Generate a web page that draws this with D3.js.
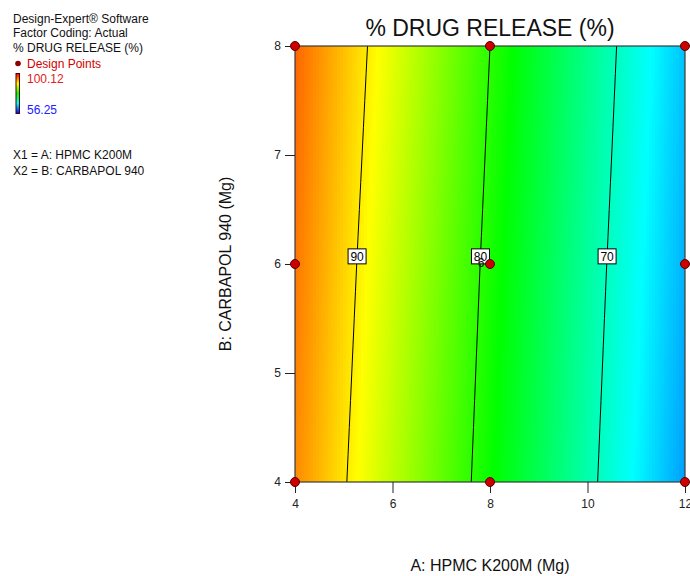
<!DOCTYPE html>
<html>
<head>
<meta charset="utf-8">
<script src="https://cdn.jsdelivr.net/npm/d3@7"></script>
<style>
  html, body { margin: 0; padding: 0; background: #fff; }
  svg { display: block; font-family: "Liberation Sans", Arial, sans-serif; }
</style>
</head>
<body>
<svg id="chart" width="690" height="576"></svg>
<script>
// Factor levels (mg)
const hpmcLevels = [4, 6, 8, 10, 12];      // A: HPMC K200M
const carbapolLevels = [4, 6, 8];          // B: CARBAPOL 940

// Predicted % drug release at each (B row, A column)
const releaseAtB4 = [94.2, 86.3, 78.5, 70.8, 63.1];
const releaseAtB6 = [95.0, 87.1, 79.2, 71.5, 63.9];
const releaseAtB8 = [95.8, 88.0, 80.0, 72.3, 64.6];
const releaseGrid = [releaseAtB4, releaseAtB6, releaseAtB8];

const contourLevels = [70, 80, 90];
const labelAtB = 6.07;

// Design points
const designA = [4, 4, 4, 8, 8, 8, 12, 12, 12];
const designB = [4, 6, 8, 4, 6, 8, 4, 6, 8];
const centerReplicates = "6";

const xTicks = [4, 6, 8, 10, 12];
const yTicks = [4, 5, 6, 7, 8];
const responseMin = 56.25, responseMax = 100.12;

const svg = d3.select("#chart");
const plot = { left: 295, right: 685, top: 46, bottom: 482 };

const x = d3.scaleLinear().domain([4, 12]).range([plot.left, plot.right]);
const y = d3.scaleLinear().domain([4, 8]).range([plot.bottom, plot.top]);

const span = responseMax - responseMin;
const color = d3.scaleLinear()
  .domain([0, 0.25, 0.5, 0.75, 1].map(t => responseMin + t * span))
  .range(["#0000ff", "#00ffff", "#00ff00", "#ffff00", "#ff0000"])
  .clamp(true);

// piecewise-linear lookup within a sorted level array
function locate(levels, v) {
  let i = 0;
  while (i < levels.length - 2 && v > levels[i + 1]) i++;
  const t = (v - levels[i]) / (levels[i + 1] - levels[i]);
  return [i, t];
}
function rowAt(b) {
  const [j, t] = locate(carbapolLevels, b);
  return hpmcLevels.map((_, k) => releaseGrid[j][k] * (1 - t) + releaseGrid[j + 1][k] * t);
}
function valueAt(a, b) {
  const row = rowAt(b);
  const [i, t] = locate(hpmcLevels, a);
  return row[i] * (1 - t) + row[i + 1] * t;
}
function crossingA(level, b) {
  const row = rowAt(b);
  for (let k = 0; k < row.length - 1; k++) {
    const v0 = row[k], v1 = row[k + 1];
    if ((v0 - level) * (v1 - level) <= 0 && v0 !== v1) {
      const t = (v0 - level) / (v0 - v1);
      return hpmcLevels[k] + t * (hpmcLevels[k + 1] - hpmcLevels[k]);
    }
  }
  return null;
}

// Response surface fill, drawn into a canvas then embedded in the SVG
const w = plot.right - plot.left, h = plot.bottom - plot.top;
const canvas = document.createElement("canvas");
canvas.width = w; canvas.height = h;
const ctx = canvas.getContext("2d");
const img = ctx.createImageData(w, h);
for (let py = 0; py < h; py++) {
  const b = y.invert(plot.top + py + 0.5);
  for (let px = 0; px < w; px++) {
    const a = x.invert(plot.left + Math.floor(px / 3) * 3 + 1.5);
    const c = d3.rgb(color(valueAt(a, b)));
    const o = (py * w + px) * 4;
    img.data[o] = c.r; img.data[o + 1] = c.g; img.data[o + 2] = c.b; img.data[o + 3] = 255;
  }
}
ctx.putImageData(img, 0, 0);
svg.append("image")
  .attr("x", plot.left).attr("y", plot.top)
  .attr("width", w).attr("height", h)
  .attr("preserveAspectRatio", "none")
  .attr("href", canvas.toDataURL());

// Contour lines
const line = d3.line().x(d => x(d[0])).y(d => y(d[1]));
const bSamples = d3.range(4, 8.001, 0.25);
contourLevels.forEach(level => {
  const pts = bSamples.map(b => [crossingA(level, b), b]).filter(p => p[0] !== null);
  svg.append("path").attr("d", line(pts))
    .attr("fill", "none").attr("stroke", "#000").attr("stroke-width", 1);
});

// Plot frame
svg.append("rect")
  .attr("x", plot.left).attr("y", plot.top)
  .attr("width", w).attr("height", h)
  .attr("fill", "none").attr("stroke", "#3a3a3a").attr("stroke-width", 1.2);

// Axes
const xAxis = svg.append("g").attr("transform", `translate(0,${plot.bottom})`)
  .call(d3.axisBottom(x).tickValues(xTicks).tickSize(11).tickPadding(6).tickFormat(d3.format("d")));
const yAxis = svg.append("g").attr("transform", `translate(${plot.left},0)`)
  .call(d3.axisLeft(y).tickValues(yTicks).tickSize(10).tickPadding(4).tickFormat(d3.format("d")));
[xAxis, yAxis].forEach(g => {
  g.select(".domain").remove();
  g.selectAll("line").attr("stroke", "#222");
  g.selectAll("text").attr("font-family", "Liberation Sans, Arial, sans-serif")
    .attr("font-size", 12).attr("fill", "#222");
});

// Contour labels (with the center-point replicate count tucked under the 80 box)
contourLevels.forEach(level => {
  const a = crossingA(level, labelAtB);
  const cx = x(a), cy = y(labelAtB);
  svg.append("rect")
    .attr("x", cx - 9).attr("y", cy - 7.5).attr("width", 18).attr("height", 15)
    .attr("fill", "#fff").attr("stroke", "#000").attr("stroke-width", 1);
  if (level === 80) {
    svg.append("text")
      .attr("x", x(8) - 9).attr("y", y(6) + 3)
      .attr("font-size", 12).attr("fill", "#111").attr("text-anchor", "middle")
      .text(centerReplicates);
  }
  svg.append("text")
    .attr("x", cx).attr("y", cy + 4.5)
    .attr("text-anchor", "middle").attr("font-size", 12).attr("fill", "#000")
    .text(level);
});

// Design points
svg.append("g").selectAll("circle")
  .data(designA.map((a, i) => [a, designB[i]]))
  .join("circle")
  .attr("cx", d => x(d[0])).attr("cy", d => y(d[1])).attr("r", 4.5)
  .attr("fill", "#cc0000").attr("stroke", "#5a0000").attr("stroke-width", 1);

// Title and axis titles
svg.append("text")
  .attr("x", (plot.left + plot.right) / 2).attr("y", 36)
  .attr("text-anchor", "middle").attr("font-size", 23).attr("fill", "#111")
  .text("% DRUG RELEASE (%)");
svg.append("text")
  .attr("x", (plot.left + plot.right) / 2).attr("y", 571)
  .attr("text-anchor", "middle").attr("font-size", 16).attr("fill", "#111")
  .text("A: HPMC K200M (Mg)");
svg.append("text")
  .attr("transform", `translate(231,${(plot.top + plot.bottom) / 2}) rotate(-90)`)
  .attr("text-anchor", "middle").attr("font-size", 16).attr("fill", "#111")
  .text("B: CARBAPOL 940 (Mg)");

// Legend block
const legend = svg.append("g").attr("font-size", 12);
[["Design-Expert® Software", 23], ["Factor Coding: Actual", 37], ["% DRUG RELEASE (%)", 52]]
  .forEach(([t, yy]) => legend.append("text").attr("x", 13).attr("y", yy).attr("fill", "#111").text(t));
legend.append("circle").attr("cx", 18).attr("cy", 63.5).attr("r", 2.8).attr("fill", "#8b0000");
legend.append("text").attr("x", 27).attr("y", 68).attr("fill", "#d40000").text("Design Points");

const defs = svg.append("defs");
const grad = defs.append("linearGradient").attr("id", "legendGrad")
  .attr("x1", 0).attr("y1", 1).attr("x2", 0).attr("y2", 0);
[0, 0.25, 0.5, 0.75, 1].forEach(t => grad.append("stop")
  .attr("offset", t).attr("stop-color", color(responseMin + t * span)));
legend.append("rect").attr("x", 16).attr("y", 73.5).attr("width", 3.5).attr("height", 40)
  .attr("fill", "url(#legendGrad)").attr("stroke", "#4a0000").attr("stroke-width", 1);
legend.append("text").attr("x", 27).attr("y", 83).attr("fill", "#e02020").text(responseMax.toFixed(2));
legend.append("text").attr("x", 27).attr("y", 114).attr("fill", "#2020ff").text(responseMin.toFixed(2));

legend.append("text").attr("x", 13).attr("y", 159).attr("fill", "#111").text("X1 = A: HPMC K200M");
legend.append("text").attr("x", 13).attr("y", 175).attr("fill", "#111").text("X2 = B: CARBAPOL 940");
</script>
</body>
</html>
